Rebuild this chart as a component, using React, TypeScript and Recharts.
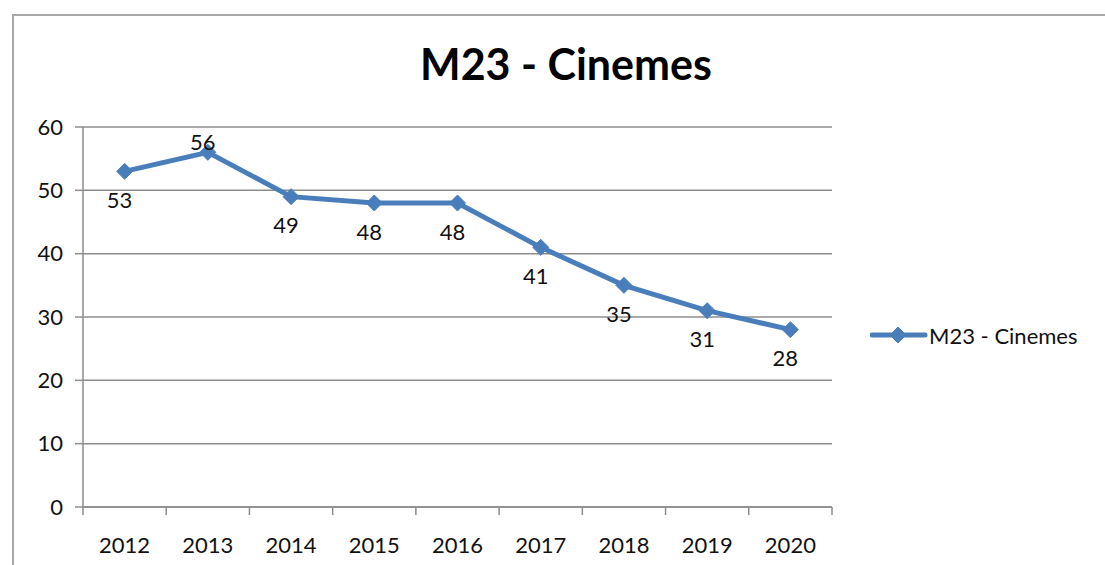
import { LineChart, Line, XAxis, YAxis, CartesianGrid, LabelList } from "recharts";

const years = ["2012", "2013", "2014", "2015", "2016", "2017", "2018", "2019", "2020"];
const cinemas = [53, 56, 49, 48, 48, 41, 35, 31, 28];
const yTicks = [0, 10, 20, 30, 40, 50, 60];
const seriesName = "M23 - Cinemes";

const data = years.map((year, i) => ({ year, value: cinemas[i] }));

const BLUE = "#4a7ebb";
const GRID = "#8c8c8c";
const FONT = "Lato, 'Open Sans', sans-serif";

const W = 1105;
const H = 565;
const PLOT_LEFT = 83;
const PLOT_RIGHT = 832;
const BAND = (PLOT_RIGHT - PLOT_LEFT) / years.length;
const TICK_OFF = 30;

const Diamond = ({ cx, cy, size = 8 }: any) => {
  if (cx == null || cy == null) return null;
  const r = size;
  return (
    <path
      d={`M${cx},${cy - r} L${cx + r},${cy} L${cx},${cy + r} L${cx - r},${cy} Z`}
      fill={BLUE}
      stroke={BLUE}
    />
  );
};

// category labels centred in each band, tick marks on the band edges (Excel style)
const YearTick = ({ x, y, payload, index }: any) => {
  const axisY = y - TICK_OFF;
  return (
    <g>
      <line x1={x - BAND / 2} x2={x - BAND / 2} y1={axisY} y2={axisY + 8} stroke={GRID} strokeWidth={1.5} />
      {index === years.length - 1 && (
        <line x1={x + BAND / 2} x2={x + BAND / 2} y1={axisY} y2={axisY + 8} stroke={GRID} strokeWidth={1.5} />
      )}
      <text x={x} y={y} dy="0.71em" textAnchor="middle" fontSize={22} fill="#111" fontFamily={FONT}>
        {payload.value}
      </text>
    </g>
  );
};

const ValueLabel = ({ x, y, value, index }: any) => {
  const above = index === 1;
  return (
    <text
      x={x - 5}
      y={above ? y - 11 : y + 28}
      textAnchor="middle"
      dominantBaseline="central"
      fontSize={22}
      fill="#111"
      fontFamily={FONT}
    >
      {value}
    </text>
  );
};

export default function App() {
  return (
    <div style={{ position: "absolute", left: 0, top: 0, width: W, height: H, overflow: "hidden", background: "#fff" }}>
      <div
        style={{
          position: "absolute",
          left: 12,
          top: 14,
          width: W,
          height: H,
          borderLeft: "2px solid #a8a8a8",
          borderTop: "2px solid #a8a8a8",
        }}
      />
      <div
        style={{
          position: "absolute",
          left: 0,
          width: 1132,
          top: 38,
          textAlign: "center",
          fontFamily: FONT,
          fontWeight: 700,
          fontSize: 43,
          color: "#000",
        }}
      >
        {seriesName}
      </div>
      <div style={{ position: "absolute", left: 0, top: 0 }}>
        <LineChart width={W} height={H} data={data} margin={{ top: 127, right: W - PLOT_RIGHT, bottom: 18, left: 0 }}>
          <CartesianGrid vertical={false} stroke={GRID} strokeWidth={1.5} />
          <XAxis
            dataKey="year"
            scale="band"
            height={40}
            tick={<YearTick />}
            tickLine={false}
            tickSize={8}
            tickMargin={TICK_OFF - 8}
            axisLine={{ stroke: GRID, strokeWidth: 1.5 }}
            interval={0}
          />
          <YAxis
            width={PLOT_LEFT}
            domain={[0, 60]}
            ticks={yTicks}
            tickSize={8}
            tickMargin={12}
            tick={{ fontSize: 22, fill: "#111", fontFamily: FONT }}
            tickLine={{ stroke: GRID, strokeWidth: 1.5 }}
            axisLine={{ stroke: GRID, strokeWidth: 1.5 }}
          />
          <Line
            type="linear"
            dataKey="value"
            name={seriesName}
            stroke={BLUE}
            strokeWidth={5}
            dot={<Diamond size={8} />}
            activeDot={false}
            isAnimationActive={false}
          >
            <LabelList dataKey="value" content={<ValueLabel />} />
          </Line>
        </LineChart>
      </div>
      <svg style={{ position: "absolute", left: 870, top: 321 }} width={235} height={30}>
        <line x1={2} x2={55} y1={14} y2={14} stroke={BLUE} strokeWidth={5} strokeLinecap="round" />
        <Diamond cx={28} cy={14} size={8} />
        <text x={59} y={14} dominantBaseline="central" fontSize={22} fill="#111" fontFamily={FONT}>
          {seriesName}
        </text>
      </svg>
    </div>
  );
}
